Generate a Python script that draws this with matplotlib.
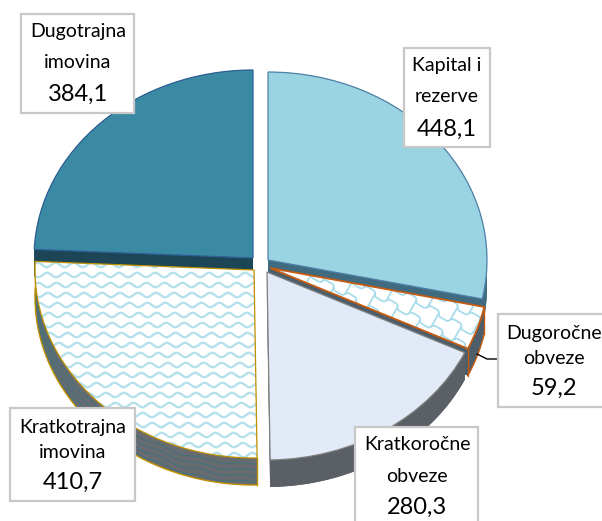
"""Exploded 3D-style pie of balance sheet items."""
import numpy as np
import matplotlib
matplotlib.use("Agg")
import matplotlib.pyplot as plt
from matplotlib.patches import Wedge, Polygon, Rectangle
from matplotlib.transforms import Affine2D

# data, clockwise from 12 o'clock
names = ["Kapital i\nrezerve", "Dugoročne\nobveze", "Kratkoročne\nobveze", "Kratkotrajna\nimovina", "Dugotrajna\nimovina"]
values = [448.1, 59.2, 280.3, 410.7, 384.1]
value_labels = ["448,1", "59,2", "280,3", "410,7", "384,1"]

# layout in picture pixels
centers = [(268, 260), (270, 268), (267, 272), (254, 270), (253, 258)]
RX, RY, DEPTH = 219, 188, 27
tops = ["#9AD3E2", "white", "#E1EAF6", "white", "#3B8AA3"]
edges = ["#4F81A8", "#C55A11", "#7F7F7F", "#BF9000", "#2F5F96"]
walls = ["#3F6A80", "#4C5E6A", "#5B5F66", "#686B70", "#1C4555"]
boxes = [(404, 48, 490, 147), (498, 314, 604, 407), (355, 427, 478, 524), (10, 408, 135, 501), (21, 14, 134, 113)]
text_x = [447, 554, 417, 73, 78]
text_y = [(65, 97, 129), (333, 358, 388), (444, 477, 507), (427, 452, 482), (32, 63, 94)]
draw_order = [4, 0, 1, 2, 3]

plt.rcParams["font.family"] = ["Lato", "DejaVu Sans"]
fig = plt.figure(figsize=(6.02, 5.21), dpi=100)
ax = fig.add_axes([0, 0, 1, 1])
ax.set_xlim(0, 602)
ax.set_ylim(521, 0)
ax.axis("off")

# slice angles come from the values, going clockwise from the top
shares = np.cumsum([0] + values) / sum(values) * 360
starts = 90 - shares[:-1]
ends = 90 - shares[1:]


def ell(cx, cy, deg, dy=0):
    t = np.radians(deg)
    return np.column_stack([cx + RX * np.cos(t), cy + dy - RY * np.sin(t)])


def clip_lines(lines, patch, color, lw):
    for x, y in lines:
        line, = ax.plot(x, y, color=color, lw=lw, zorder=patch.get_zorder() + 0.1, solid_capstyle="round")
        line.set_clip_path(patch)


def wave_texture(patch, color="#B5E0EC"):
    x = np.arange(0, 300, 1.0)
    lines = [(x, row + 2.2 * np.sin(x * 2 * np.pi / 18 + row * 0.3)) for row in np.arange(255, 475, 10)]
    clip_lines(lines, patch, color, 1.7)


def shingle_texture(patch, color="#A9DCEA"):
    # rows of stepped lines with staggered joints, turned along the slice
    ang = np.radians(30)
    ox, oy = centers[1]
    step, gap = 26, 15
    u = np.arange(0, 280, 1.0)
    lines = []
    for k, off in enumerate(np.arange(-120, 15, gap)):
        wob = 2.5 * np.tanh(3 * np.sin(u * 2 * np.pi / step + k * np.pi))
        v = off + wob
        lines.append((ox + u * np.cos(ang) - v * np.sin(ang), oy + u * np.sin(ang) + v * np.cos(ang)))
        for uj in np.arange(k % 2 * step / 2, 280, step):
            vj = np.array([off, off + gap])
            lines.append((ox + uj * np.cos(ang) - vj * np.sin(ang), oy + uj * np.sin(ang) + vj * np.cos(ang)))
    clip_lines(lines, patch, color, 1.3)


for z, i in enumerate(draw_order):
    cx, cy = centers[i]
    base = 2 + z * 2
    deg = np.linspace(ends[i], starts[i], 120)
    top_arc = ell(cx, cy, deg)
    low_arc = ell(cx, cy, deg, DEPTH)

    # wall: the arc band and the two cut faces, pushed down by the depth
    band = Polygon(np.vstack([top_arc, low_arc[::-1]]), fc=walls[i], ec="none", zorder=base)
    ax.add_patch(band)
    tf = Affine2D().scale(RX, -RY).translate(cx, cy + DEPTH) + ax.transData
    ax.add_patch(Wedge((0, 0), 1, ends[i], starts[i], transform=tf, fc=walls[i], ec="none", zorder=base))
    for end_pt in (top_arc[0], top_arc[-1]):
        face = [(cx, cy), end_pt, end_pt + (0, DEPTH), (cx, cy + DEPTH)]
        ax.add_patch(Polygon(face, fc=walls[i], ec="none", zorder=base))

    if i == 3:
        # wave pattern running along the curved side
        rows = [(low_arc[:, 0], low_arc[:, 1] - d + 1.2 * np.sin(np.radians(deg) * 32)) for d in np.arange(3, DEPTH, 6)]
        clip_lines(rows, band, "#4E6F78", 1.2)
    if i in (1, 3):
        ax.plot(low_arc[:, 0], low_arc[:, 1], color=edges[i], lw=1.0, zorder=base + 0.5)
        for end_pt in (top_arc[0], top_arc[-1]):
            ax.plot([end_pt[0], end_pt[0]], [end_pt[1], end_pt[1] + DEPTH], color=edges[i], lw=1.0, zorder=base + 0.5)

    tf = Affine2D().scale(RX, -RY).translate(cx, cy) + ax.transData
    top = Wedge((0, 0), 1, ends[i], starts[i], transform=tf, fc=tops[i], ec="none", zorder=base + 1)
    ax.add_patch(top)
    if i == 3:
        wave_texture(top)
    if i == 1:
        shingle_texture(top)
    outline = Wedge((0, 0), 1, ends[i], starts[i], transform=tf, fc="none", ec=edges[i],
                    lw=1.3 if i == 1 else 0.9, zorder=base + 1.5)
    ax.add_patch(outline)

# leader line of the small slice
ax.plot([477, 487, 498], [354, 359, 359], color="black", lw=1.0, zorder=15)

# label boxes
for i in range(len(names)):
    x0, y0, x1, y1 = boxes[i]
    ax.add_patch(Rectangle((x0, y0), x1 - x0, y1 - y0, fc="white", ec="#C8C8C8", lw=1.6, zorder=20))
    first, second = names[i].split("\n")
    ax.text(text_x[i], text_y[i][0], first, ha="center", va="center", fontsize=14, color="black", zorder=21)
    ax.text(text_x[i], text_y[i][1], second, ha="center", va="center", fontsize=14, color="black", zorder=21)
    ax.text(text_x[i], text_y[i][2], value_labels[i], ha="center", va="center", fontsize=17, color="black", zorder=21)

fig.savefig("out.png", dpi=100)
